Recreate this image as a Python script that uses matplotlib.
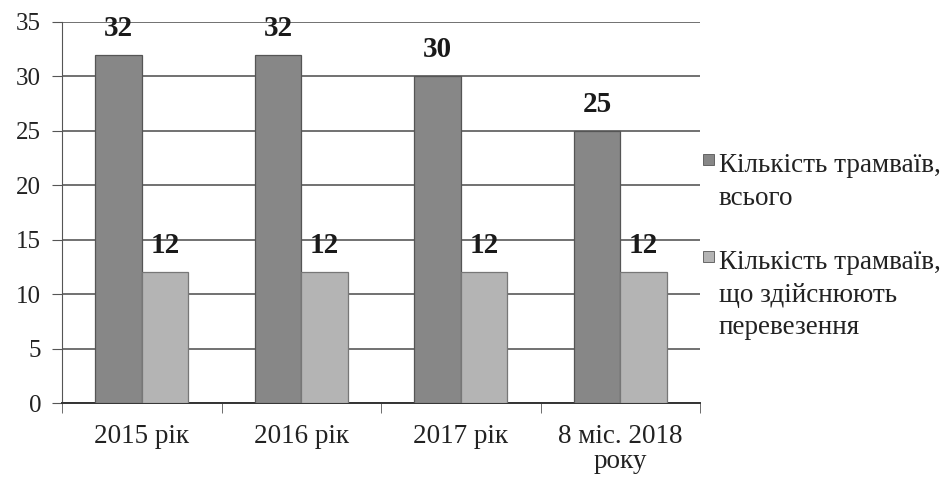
import numpy as np
import matplotlib.pyplot as plt
from matplotlib.patches import Rectangle

# =========================
# DATA
# =========================

categories = ["2015 рік", "2016 рік", "2017 рік", "8 міс. 2018\nроку"]
total = [32, 32, 30, 25]
in_service = [12, 12, 12, 12]
series_names = ["Кількість трамваїв,\nвсього",
                "Кількість трамваїв,\nщо здійснюють\nперевезення"]
colors = ["#878787", "#b4b4b4"]

plt.rcParams["font.family"] = ["Liberation Serif", "DejaVu Serif"]

# =========================
# PLOT
# =========================

W, H = 941, 478
fig = plt.figure(figsize=(W / 100, H / 100), dpi=100)
ax = fig.add_axes([62 / W, 1 - 403 / H, 638 / W, 381 / H])

x = np.arange(len(categories))
w = 0.29
b1 = ax.bar(x - w / 2, total, w, color=colors[0], edgecolor="#555555",
            linewidth=0.9, zorder=3)
b2 = ax.bar(x + w / 2, in_service, w, color=colors[1], edgecolor="#777777",
            linewidth=0.9, zorder=3)

for bars in (b1, b2):
    for r in bars:
        ax.text(r.get_x() + r.get_width() / 2, r.get_height() + 1.2,
                f"{int(r.get_height())}", ha="center", va="bottom",
                fontsize=21, fontweight="bold", color="#1a1a1a")

ax.set_xlim(-0.5, len(categories) - 0.5)
ax.set_ylim(0, 35)
ax.set_yticks(range(0, 36, 5))
ax.yaxis.grid(True, color="#4a4a4a", linewidth=1.1, zorder=0)
ax.tick_params(axis="y", length=7, color="#555555", labelsize=18, pad=8,
               labelcolor="#222222")

ax.set_xticks(x)
ax.set_xticklabels(categories, fontsize=19.5, color="#222222", linespacing=1.02)
ax.tick_params(axis="x", length=0, pad=15)
ax.set_xticks(np.arange(-0.5, len(categories)), minor=True)
ax.tick_params(axis="x", which="minor", length=7, color="#555555")

for s in ["top", "right"]:
    ax.spines[s].set_visible(False)
ax.spines["left"].set_color("#555555")
ax.spines["bottom"].set_color("#333333")
ax.spines["bottom"].set_linewidth(1.4)

# legend drawn by hand so the square sits next to the first line
for name, c, ytop in zip(series_names, colors, [153, 250]):
    fig.patches.append(Rectangle((703 / W, 1 - (ytop + 12) / H), 11 / W, 11 / H,
                                 transform=fig.transFigure, facecolor=c,
                                 edgecolor="#555555", linewidth=0.6))
    fig.text(719 / W, 1 - ytop / H, name, ha="left", va="top",
             fontsize=19.5, color="#222222", linespacing=1.4)

plt.savefig("out.png", dpi=100)
